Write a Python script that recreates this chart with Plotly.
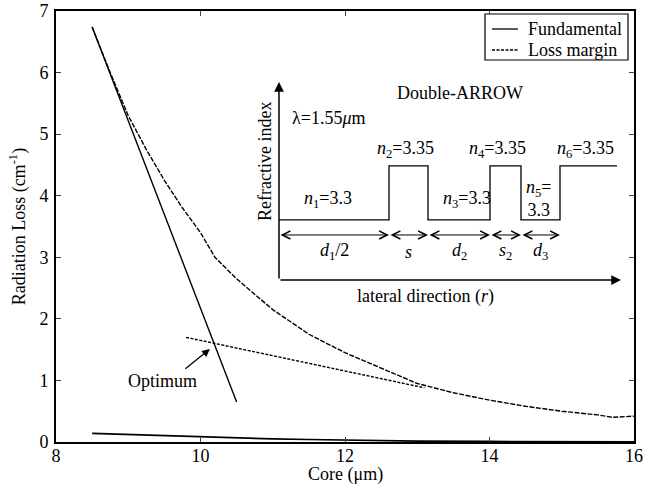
import plotly.graph_objects as go

# ---- main data ----
fund_x = [8.5, 9.0, 9.5, 10.0, 10.5, 11.0, 11.5, 12.0, 12.5, 13.0, 14.0, 15.0, 16.0]
fund_y = [0.14, 0.12, 0.10, 0.08, 0.065, 0.05, 0.04, 0.03, 0.02, 0.015, 0.01, 0.006, 0.004]

loss_x = [8.5, 8.75, 9.0, 9.25, 9.5, 9.75, 10.0, 10.2, 10.5, 11.0, 11.5, 12.0, 12.5, 12.7, 13.0, 13.5, 14.0, 14.5, 15.0, 15.5, 15.7, 16.0]
loss_y = [6.74, 6.0, 5.3, 4.75, 4.25, 3.8, 3.4, 3.0, 2.65, 2.15, 1.75, 1.45, 1.2, 1.1, 0.95, 0.8, 0.68, 0.58, 0.5, 0.44, 0.40, 0.42]

tan1_x = [8.5, 10.5]
tan1_y = [6.74, 0.65]
tan2_x = [9.8, 13.1]
tan2_y = [1.70, 0.88]

x_ticks = [8, 10, 12, 14, 16]
y_ticks = [0, 1, 2, 3, 4, 5, 6, 7]

legend_names = ["Fundamental", "Loss margin"]

# ---- inset schematic (refractive index profile) ----
prof_x = [0, 110, 149, 211, 242, 281, 338]
prof_n = [3.3, 3.35, 3.3, 3.35, 3.3, 3.35, 3.35]
dim_edges = [0, 110, 149, 211, 242, 281]
dim_labels = ["<i>d</i><sub>1</sub>/2", "<i>s</i>", "<i>d</i><sub>2</sub>",
              "<i>s</i><sub>2</sub>", "<i>d</i><sub>3</sub>"]
n_labels = ["<i>n</i><sub>1</sub>=3.3", "<i>n</i><sub>2</sub>=3.35", "<i>n</i><sub>3</sub>=3.3",
            "<i>n</i><sub>4</sub>=3.35", "<i>n</i><sub>5</sub>=<br>3.3", "<i>n</i><sub>6</sub>=3.35"]

FONT = "Liberation Serif"
FS = 18
fig = go.Figure()

fig.add_trace(go.Scatter(x=fund_x, y=fund_y, mode="lines", name=legend_names[0], showlegend=False,
                         line=dict(color="black", width=1.6)))
fig.add_trace(go.Scatter(x=loss_x, y=loss_y, mode="lines", name=legend_names[1], showlegend=False,
                         line=dict(color="black", width=1.4, dash="5px,1.5px")))
fig.add_trace(go.Scatter(x=tan1_x, y=tan1_y, mode="lines", showlegend=False,
                         line=dict(color="black", width=1.4)))
fig.add_trace(go.Scatter(x=tan2_x, y=tan2_y, mode="lines", showlegend=False,
                         line=dict(color="black", width=1.4, dash="3px,1.5px")))

fig.add_trace(go.Scatter(x=prof_x, y=prof_n, mode="lines", line_shape="hv", showlegend=False,
                         line=dict(color="black", width=1.3), xaxis="x2", yaxis="y2"))

def tf():
    return dict(family=FONT, size=FS, color="black")

ann = []
y_axis_bot = 3.2444
y_axis_top = 3.4278
y_dim = 3.2861
ann.append(dict(x=0, y=y_axis_top, ax=0, ay=y_axis_bot, xref="x2", yref="y2", axref="x2", ayref="y2",
                showarrow=True, arrowhead=2, arrowsize=1.3, arrowwidth=1.5, arrowcolor="black", text=""))
ann.append(dict(x=342, y=y_axis_bot, ax=0, ay=y_axis_bot, xref="x2", yref="y2", axref="x2", ayref="y2",
                showarrow=True, arrowhead=2, arrowsize=1.3, arrowwidth=1.5, arrowcolor="black", text=""))
for i in range(len(dim_labels)):
    a, b = dim_edges[i], dim_edges[i + 1]
    ann.append(dict(x=b, y=y_dim, ax=a, ay=y_dim, xref="x2", yref="y2", axref="x2", ayref="y2",
                    showarrow=True, arrowhead=5, arrowsize=1.6, arrowwidth=1, arrowside="end+start",
                    arrowcolor="black", text=""))
    ann.append(dict(x=(a + b) / 2, y=3.2704, xref="x2", yref="y2", text=dim_labels[i],
                    showarrow=False, font=tf()))
n_pos = [(49, 3.3185), (126, 3.3657), (188, 3.3185), (218, 3.3657), (259, 3.3200), (306, 3.3657)]
for (px, py), t in zip(n_pos, n_labels):
    ann.append(dict(x=px, y=py, xref="x2", yref="y2", text=t, showarrow=False, font=tf()))
ann.append(dict(x=181, y=3.4176, xref="x2", yref="y2", text="Double-ARROW", showarrow=False, font=tf()))
ann.append(dict(x=49, y=3.3944, xref="x2", yref="y2", text="λ=1.55<i>μ</i>m", showarrow=False, font=tf()))
ann.append(dict(x=146, y=3.2287, xref="x2", yref="y2", text="lateral direction (<i>r</i>)",
                showarrow=False, font=tf()))
ann.append(dict(x=-14, y=3.3537, xref="x2", yref="y2", text="Refractive index", showarrow=False,
                textangle=-90, font=tf()))

ann.append(dict(x=10.13, y=1.51, ax=9.77, ay=1.17, xref="x", yref="y", axref="x", ayref="y",
                showarrow=True, arrowhead=2, arrowsize=1.2, arrowwidth=1.3, arrowcolor="black", text=""))
ann.append(dict(x=9.48, y=0.99, xref="x", yref="y", text="Optimum", showarrow=False, font=tf()))

# axis titles
ann.append(dict(x=0.5, y=-0.076, xref="paper", yref="paper", yanchor="middle", text="Core (μm)",
                showarrow=False, font=tf()))
ann.append(dict(x=-0.066, y=0.5, xref="paper", yref="paper", xanchor="center", yanchor="middle",
                text="Radiation Loss (cm<sup>-1</sup>)", textangle=-90, showarrow=False, font=tf()))

def px2x(p):
    return (p - 56) / 578.0
def py2y(p):
    return (442 - p) / 431.0

shapes = [dict(type="rect", xref="paper", yref="paper", x0=px2x(485), x1=px2x(628), y0=py2y(60), y1=py2y(14),
               line=dict(color="black", width=1.2), fillcolor="white", layer="above")]
for i, (py, dash) in enumerate([(29, "solid"), (50, "3px,1.5px")]):
    shapes.append(dict(type="line", xref="paper", yref="paper", x0=px2x(492), x1=px2x(518),
                       y0=py2y(py), y1=py2y(py), line=dict(color="black", width=1.3, dash=dash)))
    ann.append(dict(x=px2x(526), y=py2y(py), xref="paper", yref="paper", xanchor="left", yanchor="middle",
                    text=legend_names[i], showarrow=False, font=tf()))

fig.update_layout(
    width=645, height=487,
    margin=dict(l=56, r=11, t=11, b=45, autoexpand=False),
    paper_bgcolor="white", plot_bgcolor="white",
    font=tf(),
    showlegend=False,
    annotations=ann,
    shapes=shapes,
    xaxis=dict(range=[8, 16], tickvals=x_ticks, ticks="inside", ticklen=5, mirror="ticks",
               showline=True, linecolor="black", linewidth=2, showgrid=False, zeroline=False,
               tickfont=tf(), ticklabelstandoff=-4, automargin=False),
    yaxis=dict(range=[0, 7], tickvals=y_ticks, ticks="inside", ticklen=5, mirror="ticks",
               showline=True, linecolor="black", linewidth=2, showgrid=False, zeroline=False,
               tickfont=tf(), ticklabelstandoff=2, automargin=False),
    xaxis2=dict(range=[-223, 355], overlaying="x", anchor="y2", visible=False, showgrid=False, automargin=False),
    yaxis2=dict(range=[3.0944, 3.4935], overlaying="y", anchor="x2", visible=False, showgrid=False, automargin=False),
)

fig.write_html("out.html", config={"displayModeBar": False},
               post_script="document.body.style.margin='0';")
